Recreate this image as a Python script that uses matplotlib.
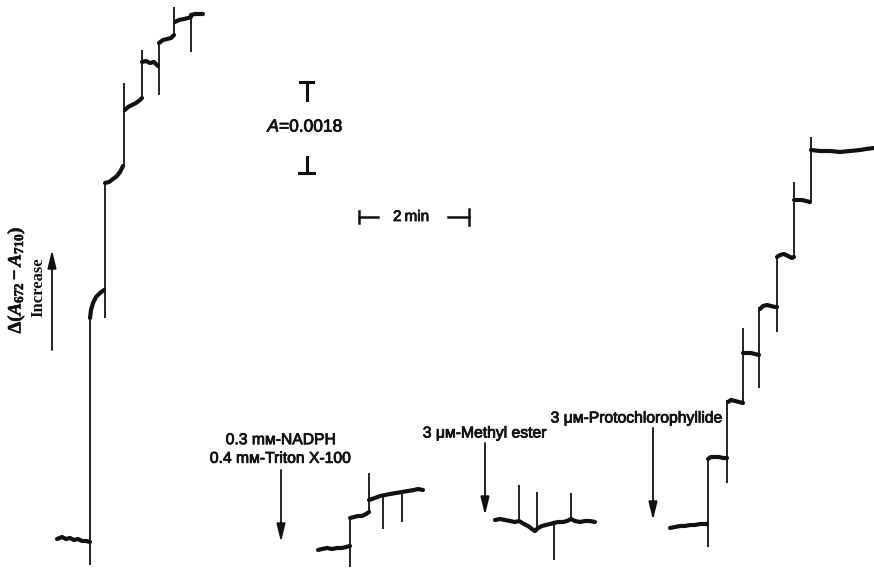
import matplotlib
matplotlib.use("Agg")
import matplotlib.pyplot as plt
import matplotlib.patheffects as pe

plt.rcParams['font.family'] = ['Liberation Sans', 'DejaVu Sans']
plt.rcParams['mathtext.fontset'] = 'custom'
plt.rcParams['mathtext.rm'] = 'Liberation Serif:bold'
plt.rcParams['mathtext.it'] = 'Liberation Serif:bold:italic'
plt.rcParams['mathtext.bf'] = 'Liberation Serif:bold'

# Recorder chart units: x = chart position (time), y = pen position (down is lower A)
CHART_PER_MIN = 55.0          # chart units per minute
CHART_PER_A = 91.0 / 0.0018   # chart units per absorbance unit
SCALE_MIN = 2                 # time scale bar, min
SCALE_A = 0.0018              # absorbance scale bar

# ---- Trace 1: complete assay ----
t1_levels = [
    [(57, 539), (62, 537), (66, 539), (70, 538), (74, 540), (78, 539), (82, 541), (86, 541), (90, 542)],
    [(90, 318), (91, 310), (93, 303), (96, 297), (100, 293), (104, 290)],
    [(105, 183), (109, 182), (113, 179), (117, 176), (120, 172), (123, 166)],
    [(125, 110), (128, 107), (132, 105), (136, 103), (140, 100), (142, 98)],
    [(142, 62), (146, 61), (150, 63), (154, 62), (158, 66)],
    [(159, 43), (163, 40), (167, 39), (171, 38), (174, 35)],
    [(175, 22), (179, 20), (184, 19), (188, 18), (191, 17)],
    [(191, 15), (195, 14), (199, 14), (203, 14)],
]
t1_strokes = [(90, 565, 318), (105, 318, 183), (124, 166, 83), (142, 98, 50),
              (159, 95, 43), (174, 35, 7), (191, 52, 15)]

# ---- Trace 2: minus pigment ----
t2_levels = [
    [(318, 550), (322, 549), (327, 548), (332, 549), (337, 548), (342, 548), (346, 547), (350, 546)],
    [(350, 518), (354, 517), (358, 516), (362, 516), (366, 514), (369, 512)],
    [(369, 500), (375, 498), (380, 496), (385, 495), (390, 494), (396, 493), (402, 492),
     (408, 491), (414, 490), (418, 489), (423, 490)],
]
t2_strokes = [(350, 567, 518), (369, 512, 473), (383, 529, 496), (402, 522, 492)]

# ---- Trace 3: methyl ester ----
t3_levels = [
    [(495, 520), (500, 519), (505, 520), (510, 521), (515, 522), (519, 521), (524, 524),
     (528, 526), (532, 529), (535, 531), (538, 528), (542, 526), (546, 525), (550, 524),
     (554, 523), (558, 522), (563, 522), (567, 521), (571, 519), (575, 521), (580, 522),
     (585, 521), (590, 521), (595, 522)],
]
t3_strokes = [(519, 521, 485), (537, 528, 492), (554, 560, 523), (571, 519, 493)]

# ---- Trace 4: protochlorophyllide ----
t4_levels = [
    [(670, 528), (675, 527), (680, 526), (685, 526), (690, 525), (695, 525), (700, 524), (707, 524)],
    [(708, 459), (711, 457), (715, 457), (719, 457), (723, 458), (727, 458)],
    [(728, 402), (731, 400), (735, 401), (739, 402), (743, 403)],
    [(743, 353), (747, 353), (751, 353), (755, 354), (759, 355)],
    [(760, 309), (763, 306), (767, 305), (771, 306), (775, 307), (777, 307)],
    [(777, 257), (780, 255), (784, 254), (788, 256), (792, 258), (794, 257)],
    [(794, 200), (798, 200), (802, 200), (806, 201), (810, 202)],
    [(811, 150), (820, 151), (830, 151), (840, 152), (850, 151), (860, 150), (866, 149), (874, 148)],
]
t4_strokes = [(708, 547, 459), (727, 483, 400), (743, 403, 328), (759, 388, 307),
              (777, 332, 255), (794, 257, 182), (811, 202, 137)]

# Addition markers: (label, x_text, y_text, y_arrow_start, y_arrow_tip)
additions = [
    ("0.3 m\u1d0d-NADPH\n0.4 m\u1d0d-Triton X-100", 281, 449, 470, 542),
    ("3 \u03bc\u1d0d-Methyl ester", 485, 433, 443, 515),
    ("3 \u03bc\u1d0d-Protochlorophyllide", 637, 418, 428, 520),
]
addition_arrow_x = [281, 485, 653]

fig = plt.figure(figsize=(8.74, 5.68), dpi=100)
ax = fig.add_axes([0, 0, 1, 1])
ax.set_xlim(0, 874)
ax.set_ylim(568, 0)
ax.axis('off')

INK = '#111111'
heavy = [pe.withStroke(linewidth=0.6, foreground=INK)]

def draw_trace(levels, strokes):
    for x, y0, y1 in strokes:
        ax.plot([x, x], [y0, y1], color=INK, lw=1.3, solid_capstyle='butt')
    for seg in levels:
        xs = [p[0] for p in seg]
        ys = [p[1] for p in seg]
        ax.plot(xs, ys, color=INK, lw=3.0, solid_capstyle='round', solid_joinstyle='round')

for lv, st in [(t1_levels, t1_strokes), (t2_levels, t2_strokes),
               (t3_levels, t3_strokes), (t4_levels, t4_strokes)]:
    draw_trace(lv, st)

arrow_props = dict(arrowstyle='-|>,head_width=0.22,head_length=0.9', lw=1.3,
                   color=INK, mutation_scale=12, shrinkA=0, shrinkB=0)

for (label, xt, yt, ya, ytip), xa in zip(additions, addition_arrow_x):
    ax.text(xt, yt, label, ha='center', va='center', fontsize=11.3, color=INK,
            linespacing=1.3, path_effects=heavy)
    ax.annotate('', xy=(xa, ytip), xytext=(xa, ya), arrowprops=arrow_props)

# Absorbance scale bar
a_top = 82
a_len = SCALE_A * CHART_PER_A
a_bot = a_top + a_len
ax.plot([300, 313], [a_top, a_top], color=INK, lw=2.2)
ax.plot([306.5, 306.5], [a_top, a_top + 18], color=INK, lw=2.2)
ax.plot([306.5, 306.5], [a_bot - 16, a_bot], color=INK, lw=2.2)
ax.plot([299, 314], [a_bot, a_bot], color=INK, lw=2.2)
ax.text(279, 127, "A", ha='right', va='center', fontsize=12.5, style='italic',
        color=INK, path_effects=heavy)
ax.text(279, 127, "=0.0018", ha='left', va='center', fontsize=12.5, color=INK,
        path_effects=heavy)

# Time scale bar
t_left = 359
t_right = t_left + SCALE_MIN * CHART_PER_MIN
t_y = 217
ax.plot([t_left, t_left + 19], [t_y, t_y], color=INK, lw=1.8)
ax.plot([t_left, t_left], [t_y - 6, t_y + 6], color=INK, lw=1.8)
ax.plot([t_right - 21, t_right], [t_y, t_y], color=INK, lw=1.8)
ax.plot([t_right, t_right], [t_y - 8, t_y + 8], color=INK, lw=1.8)
ax.text(411, t_y, "2\u2009min", ha='center', va='center',
        fontsize=11, color=INK, path_effects=heavy)

# Ordinate label
ax.text(16, 280, r"$\Delta(A_{672}-A_{710})$", rotation=90, ha='center', va='center',
        fontsize=13.5, color=INK, path_effects=[pe.withStroke(linewidth=0.4, foreground=INK)])
ax.text(38, 287, "Increase", rotation=90, ha='center', va='center', fontsize=12,
        color=INK, family='Liberation Serif', weight='bold')
ax.annotate('', xy=(52, 250), xytext=(52, 350), arrowprops=arrow_props)

fig.savefig("out.png", dpi=100, facecolor='white')
